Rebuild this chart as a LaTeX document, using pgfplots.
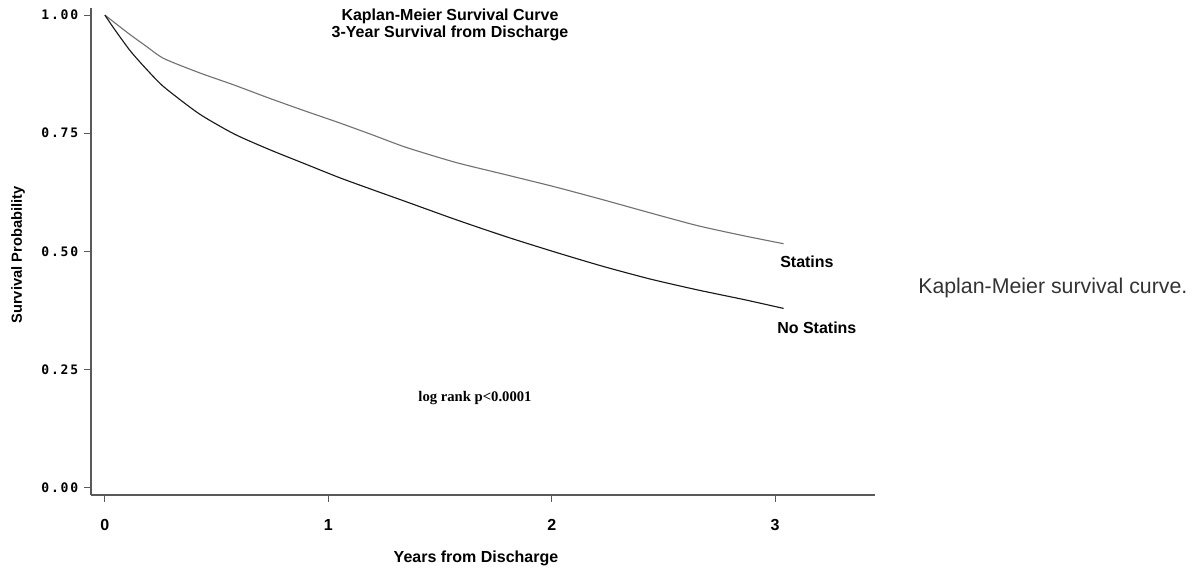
\documentclass[border=0pt]{standalone}
\usepackage{fontspec}
\setmainfont{Liberation Sans}
\newfontfamily\tickmono[LetterSpace=14]{DejaVu Sans Mono}
\newfontfamily\serifb{Liberation Serif}
\usepackage{pgfplots}
\pgfplotsset{compat=1.18}
\begin{document}
\begin{tikzpicture}
\path[use as bounding box] (0,0) rectangle (897pt,426pt);
\begin{axis}[
  at={(68.25pt,54.75pt)}, anchor=south west,
  scale only axis, width=588pt, height=365.25pt,
  xmin=-0.0622, xmax=3.447, ymin=-0.0159, ymax=1.015,
  axis x line*=bottom, axis y line*=left,
  axis line style={-, black!65, line width=0.9pt},
  xtick={0,1,2,3}, ytick={0,0.25,0.5,0.75,1},
  tick align=outside, major tick length=5pt,
  tick style={black!65, line width=0.8pt},
  /pgf/number format/assume math mode=true,
  xticklabel style={font=\fontsize{12}{14}\selectfont\bfseries, yshift=-9.5pt},
  yticklabel style={font=\tickmono\fontsize{9.8}{11}\selectfont\bfseries, xshift=-1pt,
    /pgf/number format/fixed, /pgf/number format/fixed zerofill, /pgf/number format/precision=2},
  clip=false,
]
% Statins
\addplot[black!55, line width=0.85pt, smooth, tension=0.4] coordinates {
(0,1.0) (0.106,0.961) (0.185,0.934) (0.264,0.908) (0.422,0.878) (0.578,0.852)
(0.736,0.824) (0.896,0.797) (1.049,0.772) (1.200,0.746) (1.348,0.720)
(1.571,0.688) (1.795,0.662) (2.017,0.636) (2.230,0.609) (2.443,0.581)
(2.655,0.554) (2.868,0.532) (3.038,0.516)
};
% No Statins
\addplot[black!90, line width=0.85pt, smooth, tension=0.4] coordinates {
(0,1.0) (0.043,0.970) (0.114,0.924) (0.185,0.886) (0.264,0.848) (0.422,0.791)
(0.580,0.748) (0.738,0.715) (0.896,0.685) (1.049,0.656) (1.200,0.630)
(1.348,0.605) (1.571,0.567) (1.795,0.531) (2.017,0.498) (2.230,0.468)
(2.443,0.441) (2.655,0.418) (2.868,0.397) (3.038,0.379)
};
\end{axis}
\node[align=center, font=\fontsize{12}{12.5}\selectfont\bfseries] at (337.5pt,407.25pt)
  {Kaplan-Meier Survival Curve\\3-Year Survival from Discharge};
\node[font=\serifb\fontsize{11}{13}\selectfont\bfseries] at (356.25pt,127.5pt) {log rank p<0.0001};
\node[anchor=west, inner sep=0pt, font=\fontsize{12}{14}\selectfont\bfseries] at (585pt,229.5pt) {Statins};
\node[anchor=west, inner sep=0pt, font=\fontsize{12}{14}\selectfont\bfseries] at (582.75pt,180pt) {No Statins};
\node[anchor=west, inner sep=0pt, text=black!80, font=\fontsize{16}{18}\selectfont] at (688.5pt,210pt) {Kaplan-Meier survival curve.};
\node[font=\fontsize{12}{14}\selectfont\bfseries] at (357pt,7pt) {Years from Discharge};
\node[rotate=90, font=\fontsize{11}{13}\selectfont\bfseries] at (13.5pt,234.75pt) {Survival Probability};
\end{tikzpicture}
\end{document}
